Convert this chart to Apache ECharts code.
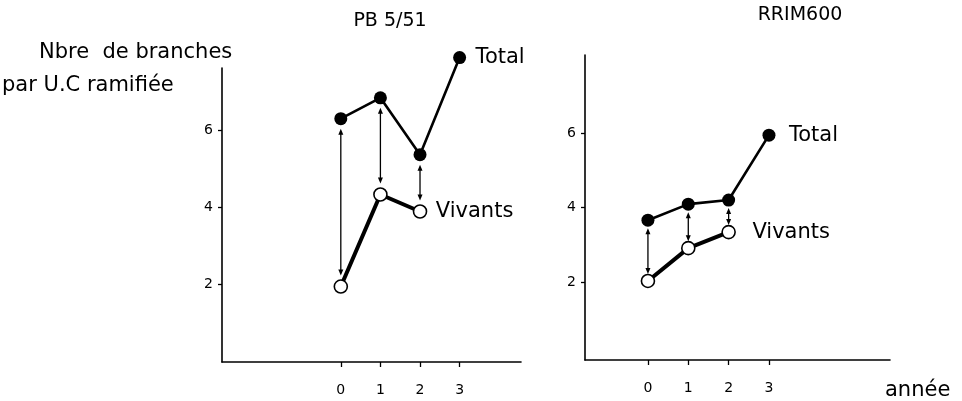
<!DOCTYPE html>
<html>
<head>
<meta charset="utf-8">
<script src="https://cdn.jsdelivr.net/npm/echarts@6/dist/echarts.min.js"></script>
<style>
  html, body { margin: 0; padding: 0; background: #fff; }
  #chart { width: 962px; height: 401px; }
</style>
</head>
<body>
<div id="chart"></div>
<script>
// years (année) and y tick values
const years = [0, 1, 2, 3];
const yTicks = [2, 4, 6];

// PB 5/51 - branches per branched unit
const pbTotal = [6.29, 6.83, 5.36, 7.87];
const pbVivants = [1.95, 4.33, 3.89];

// RRIM600
const rrimTotal = [3.66, 4.09, 4.2, 5.94];
const rrimVivants = [2.03, 2.91, 3.34];

const FONT = 'DejaVu Sans';

var chart = echarts.init(document.getElementById('chart'));

function makeX(gridIndex, min, max, extra) {
    return Object.assign({
        type: 'value',
        gridIndex: gridIndex,
        min: min,
        max: max,
        splitLine: { show: false },
        axisLine: { show: true, onZero: false, lineStyle: { color: '#000', width: 1.6 } },
        axisTick: { show: true, customValues: years, length: 5, lineStyle: { color: '#000', width: 1.3 } },
        axisLabel: { customValues: years, margin: 21, color: '#000', fontSize: 14, fontFamily: FONT }
    }, extra || {});
}

function makeY(gridIndex, min, max) {
    return {
        type: 'value',
        gridIndex: gridIndex,
        min: min,
        max: max,
        splitLine: { show: false },
        axisLine: { show: true, onZero: false, lineStyle: { color: '#000', width: 1.6 } },
        axisTick: { show: true, customValues: yTicks, length: 4, lineStyle: { color: '#000', width: 1.3 } },
        axisLabel: { customValues: yTicks, margin: 9, color: '#000', fontSize: 14, fontFamily: FONT }
    };
}

function labelled(values, text, distance) {
    return values.map(function(v, i) {
        const item = { value: [years[i], v] };
        if (i === values.length - 1) {
            item.label = {
                show: true, position: 'right', distance: distance, formatter: text,
                color: '#000', fontSize: 21, fontFamily: FONT
            };
        }
        return item;
    });
}

function totalSeries(idx, values, distance) {
    return {
        type: 'line', xAxisIndex: idx, yAxisIndex: idx,
        data: labelled(values, 'Total', distance),
        symbol: 'circle', symbolSize: 13,
        clip: false,
        itemStyle: { color: '#000' },
        lineStyle: { color: '#000', width: 2.6 },
        z: 3
    };
}

function vivantsSeries(idx, values, distance) {
    return {
        type: 'line', xAxisIndex: idx, yAxisIndex: idx,
        data: labelled(values, 'Vivants', distance),
        symbol: 'circle', symbolSize: 13,
        clip: false,
        itemStyle: { color: '#fff', borderColor: '#000', borderWidth: 1.6 },
        lineStyle: { color: '#000', width: 4 },
        z: 4
    };
}

// double-headed arrows between Total and Vivants
function arrowSeries(idx, total, vivants, gapTop, gapBottom) {
    const data = vivants.map(function(v, i) { return [years[i], total[i], v]; });
    return {
        type: 'custom', xAxisIndex: idx, yAxisIndex: idx,
        data: data,
        encode: { x: 0, y: [1, 2] },
        clip: false,
        z: 2,
        renderItem: function(params, api) {
            const top = api.coord([api.value(0), api.value(1)]);
            const bot = api.coord([api.value(0), api.value(2)]);
            const x = top[0];
            const y1 = top[1] + gapTop;
            const y2 = bot[1] - gapBottom;
            const h = 6, w = 2.5;
            return {
                type: 'group',
                children: [
                    { type: 'line', shape: { x1: x, y1: y1 + 3, x2: x, y2: y2 - 3 }, style: { stroke: '#000', lineWidth: 1.3 } },
                    { type: 'polygon', shape: { points: [[x, y1], [x - w, y1 + h], [x + w, y1 + h]] }, style: { fill: '#000' } },
                    { type: 'polygon', shape: { points: [[x, y2], [x - w, y2 - h], [x + w, y2 - h]] }, style: { fill: '#000' } }
                ]
            };
        }
    };
}

function text(str, x, y, size, align) {
    return {
        type: 'text', x: x, y: y,
        style: {
            text: str, fill: '#000', font: size + 'px "' + FONT + '"',
            textAlign: align || 'left', textVerticalAlign: 'middle'
        }
    };
}

var option = {
    animation: false,
    backgroundColor: '#fff',
    grid: [
        { left: 222, top: 68, width: 299, height: 294, outerBoundsMode: 'none' },
        { left: 585, top: 55, width: 305, height: 305, outerBoundsMode: 'none' }
    ],
    xAxis: [
        makeX(0, -3, 4.55),
        makeX(1, -1.56, 6.0, {
            name: 'année',
            nameLocation: 'end',
            nameGap: -5,
            nameTextStyle: { color: '#000', fontSize: 21, fontFamily: FONT, align: 'left', verticalAlign: 'top', padding: [20, 0, 0, 0] }
        })
    ],
    yAxis: [
        makeY(0, 0, 7.6),
        makeY(1, -0.09, 8.09)
    ],
    graphic: [
        text('PB 5/51', 390, 21, 19, 'center'),
        text('RRIM600', 800, 15, 19, 'center'),
        text('Nbre  de branches', 39, 53, 21),
        text('par U.C ramifiée', 2, 86, 21)
    ],
    series: [
        arrowSeries(0, pbTotal, pbVivants, 10, 11),
        totalSeries(0, pbTotal, 9.5),
        vivantsSeries(0, pbVivants, 8.5),
        arrowSeries(1, rrimTotal, rrimVivants, 8, 7),
        totalSeries(1, rrimTotal, 13.5),
        vivantsSeries(1, rrimVivants, 16.5)
    ]
};

chart.setOption(option);
</script>
</body>
</html>
